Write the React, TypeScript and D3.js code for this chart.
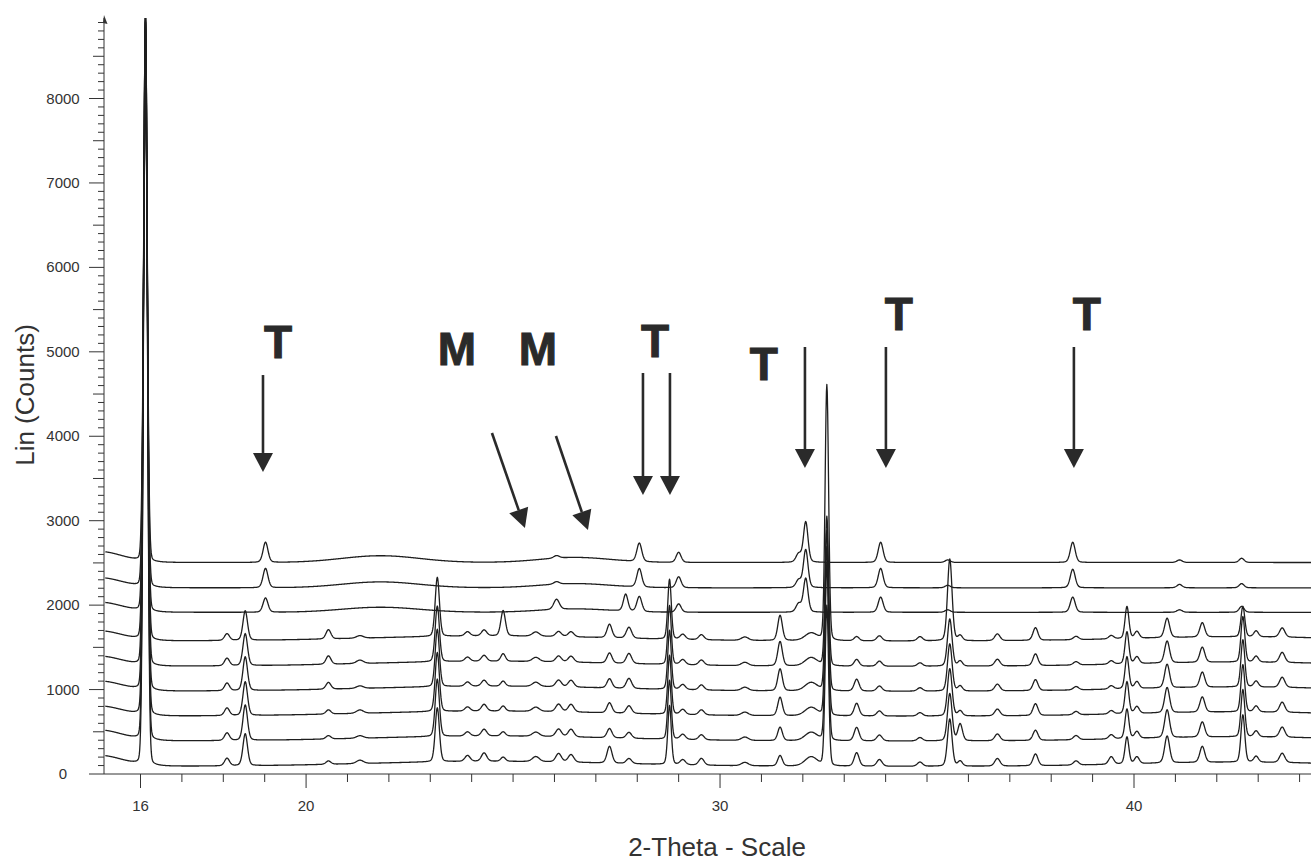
import React, { useEffect, useMemo } from 'react';
import * as d3 from 'd3';

const W = 1311;
const H = 861;

// ---- axis values ----
const xMajorTicks = [16, 20, 30, 40];
const xMajorLabels = ['16', '20', '30', '40'];
const xMinorTicks = [17, 18, 19, 21, 22, 23, 24, 25, 26, 27, 28, 29, 31, 32, 33, 34, 35, 36, 37, 38, 39, 41, 42, 43, 44];
const yMajorTicks = [0, 1000, 2000, 3000, 4000, 5000, 6000, 7000, 8000];
const yTickLabels = ['0', '1000', '2000', '3000', '4000', '5000', '6000', '7000', '8000'];
const yMaxTick = 8900;

const xTitle = '2-Theta - Scale';
const yTitle = 'Lin (Counts)';

// ---- data: 9 stacked diffraction patterns ----
// lower group (6 scans) baselines, counts
const baseB = [90, 390, 685, 980, 1275, 1575];
// upper group (3 scans) baselines, counts
const baseT = [1915, 2205, 2505];

// peaks of lower group: [2θ, FWHM, lorentz fraction, h0, h1, h2, h3, h4, h5]
const peaksB: number[][] = [
  [16.12, 0.11, 0.06, 8800, 8500, 8300, 8000, 7700, 7400],
  [18.09, 0.14, 0.25, 90, 90, 90, 90, 90, 80],
  [18.53, 0.13, 0.25, 380, 420, 400, 400, 380, 350],
  [20.54, 0.14, 0.25, 40, 40, 50, 80, 100, 110],
  [21.3, 0.2, 0.25, 40, 30, 40, 30, 40, 30],
  [23.17, 0.12, 0.2, 640, 680, 700, 680, 660, 700],
  [23.9, 0.15, 0.25, 70, 50, 50, 50, 50, 50],
  [24.3, 0.15, 0.25, 100, 80, 80, 70, 70, 70],
  [24.76, 0.13, 0.25, 50, 50, 60, 60, 90, 300],
  [25.55, 0.2, 0.25, 60, 50, 50, 50, 50, 50],
  [26.1, 0.16, 0.25, 100, 90, 90, 80, 70, 60],
  [26.4, 0.16, 0.25, 90, 90, 90, 80, 70, 60],
  [27.33, 0.14, 0.25, 200, 110, 120, 110, 120, 160],
  [27.8, 0.15, 0.25, 60, 70, 90, 120, 120, 130],
  [28.78, 0.1, 0.2, 700, 700, 700, 700, 700, 710],
  [29.1, 0.15, 0.25, 60, 60, 60, 60, 60, 60],
  [29.55, 0.15, 0.25, 80, 60, 60, 60, 60, 60],
  [30.6, 0.2, 0.25, 40, 40, 40, 40, 40, 40],
  [31.45, 0.13, 0.25, 125, 160, 220, 260, 290, 300],
  [32.2, 0.35, 0.25, 110, 100, 100, 100, 100, 90],
  [32.58, 0.1, 0.12, 1900, 2100, 2000, 1900, 1770, 3030],
  [33.3, 0.14, 0.25, 160, 160, 150, 140, 80, 50],
  [33.85, 0.15, 0.25, 80, 70, 60, 60, 60, 60],
  [34.83, 0.15, 0.25, 50, 40, 40, 40, 40, 50],
  [35.55, 0.13, 0.2, 560, 560, 560, 560, 560, 970],
  [35.8, 0.13, 0.25, 60, 200, 60, 60, 60, 60],
  [36.7, 0.15, 0.25, 90, 80, 80, 80, 80, 80],
  [37.62, 0.14, 0.25, 140, 120, 140, 130, 140, 150],
  [38.6, 0.15, 0.25, 50, 50, 40, 40, 40, 40],
  [39.45, 0.14, 0.25, 90, 50, 40, 40, 40, 40],
  [39.83, 0.11, 0.25, 320, 350, 380, 380, 380, 380],
  [40.07, 0.13, 0.25, 80, 80, 80, 80, 80, 80],
  [40.8, 0.14, 0.25, 320, 330, 300, 280, 260, 230],
  [41.65, 0.14, 0.25, 190, 180, 180, 180, 180, 170],
  [42.63, 0.11, 0.2, 560, 560, 560, 560, 540, 360],
  [42.95, 0.13, 0.25, 70, 70, 70, 70, 70, 70],
  [43.58, 0.15, 0.25, 110, 120, 120, 120, 120, 110],
];

// peaks of upper group: [2θ, FWHM, lorentz fraction, h6, h7, h8]
const peaksT: number[][] = [
  [16.12, 0.11, 0.06, 6200, 5900, 5600],
  [19.02, 0.14, 0.25, 170, 230, 240],
  [26.05, 0.16, 0.25, 120, 30, 30],
  [27.72, 0.13, 0.25, 200, 0, 0],
  [28.05, 0.14, 0.25, 180, 220, 220],
  [29.0, 0.14, 0.25, 100, 130, 120],
  [31.9, 0.15, 0.25, 100, 90, 100],
  [32.07, 0.13, 0.25, 400, 450, 480],
  [33.88, 0.14, 0.25, 180, 230, 240],
  [35.5, 0.15, 0.25, 30, 30, 30],
  [38.52, 0.14, 0.25, 180, 220, 240],
  [41.1, 0.15, 0.25, 30, 40, 30],
  [42.6, 0.14, 0.25, 70, 50, 50],
];

// broad background humps: [centre, width, a...]
const bgB: number[][] = [
  [15.0, 1.3, 130, 130, 120, 120, 120, 120],
  [24.5, 7, 60, 60, 60, 60, 60, 60],
  [42.5, 6, 50, 50, 50, 50, 50, 50],
];
const bgT: number[][] = [
  [15.0, 1.3, 120, 120, 130],
  [21.8, 2.2, 60, 70, 80],
  [26.5, 2.0, 40, 50, 60],
];

// ---- annotations (2θ, counts) ----
const labelText = ['T', 'M', 'M', 'T', 'T', 'T', 'T'];
const labelX = [19.32, 23.645, 25.6, 28.43, 31.06, 34.32, 38.86];
const labelY = [4927, 4844, 4844, 4938, 4666, 5258, 5258];
const arrowX0 = [18.959, 24.49, 26.036, 28.138, 28.79, 32.051, 34.007, 38.548];
const arrowY0 = [4725, 4038, 4003, 4749, 4749, 5057, 5057, 5057];
const arrowX1 = [18.959, 25.287, 26.809, 28.138, 28.79, 32.051, 34.007, 38.548];
const arrowY1 = [3577, 2913, 2890, 3304, 3304, 3624, 3624, 3624];

const X_START = 15.15;
const X_END = 44.3;
const STEP = 0.01;

function profile(x: number, c: number, w: number, eta: number) {
  const d = (x - c) / w;
  const g = Math.exp(-4 * Math.LN2 * d * d);
  const l = 1 / (1 + 4 * d * d);
  return eta * l + (1 - eta) * g;
}
function gauss(x: number, c: number, w: number) {
  const d = (x - c) / w;
  return Math.exp(-4 * Math.LN2 * d * d);
}

export default function App() {
  useEffect(() => {
    document.body.style.margin = '0';
    document.body.style.overflow = 'hidden';
  }, []);

  const x = d3.scaleLinear().domain([16, 40]).range([140.5, 1134]);
  const y = d3.scaleLinear().domain([0, 8000]).range([774, 98.5]);
  const axisX = 104;
  const axisY = y(0);
  const topY = 18;

  const traces = useMemo(() => {
    const xs = d3.range(X_START, X_END, STEP);
    const out: [number, number][][] = [];
    const build = (base: number, peaks: number[][], bg: number[][], k: number) =>
      xs.map((t) => {
        let v = base;
        for (const b of bg) v += b[2 + k] * gauss(t, b[0], b[1]);
        for (const p of peaks) if (Math.abs(t - p[0]) < 3) v += p[3 + k] * profile(t, p[0], p[1], p[2]);
        return [t, v] as [number, number];
      });
    baseB.forEach((b, k) => out.push(build(b, peaksB, bgB, k)));
    baseT.forEach((b, k) => out.push(build(b, peaksT, bgT, k)));
    return out;
  }, []);

  const line = d3
    .line<[number, number]>()
    .x((d) => x(d[0]))
    .y((d) => y(d[1]));

  const yMinor = d3.range(100, yMaxTick + 1, 100).filter((v) => v % 500 !== 0);
  const yMid = d3.range(500, yMaxTick, 1000);

  const font = '"Liberation Sans", Arial, Helvetica, sans-serif';

  const arrows = arrowX0.map((_, i) => {
    const px0 = x(arrowX0[i]);
    const py0 = y(arrowY0[i]);
    const px1 = x(arrowX1[i]);
    const py1 = y(arrowY1[i]);
    const dx = px1 - px0;
    const dy = py1 - py0;
    const len = Math.hypot(dx, dy);
    const ux = dx / len;
    const uy = dy / len;
    const hl = 19;
    const hw = 10;
    const bx = px1 - ux * hl;
    const by = py1 - uy * hl;
    const head = `M${px1},${py1}L${bx - uy * hw},${by + ux * hw}L${bx + uy * hw},${by - ux * hw}Z`;
    return { px0, py0, bx, by, head };
  });

  return (
    <svg width={W} height={H} style={{ position: 'absolute', left: 0, top: 0, background: '#fff' }}>
      <defs>
        <clipPath id="plot">
          <rect x={axisX} y={topY} width={W - axisX} height={axisY - topY + 1} />
        </clipPath>
      </defs>

      {/* traces */}
      <g clipPath="url(#plot)">
        {traces.map((t, i) => (
          <path key={i} d={line(t) || ''} fill="none" stroke="#1e1e1e" strokeWidth={1.3} strokeLinejoin="round" />
        ))}
      </g>

      {/* y axis */}
      <g stroke="#333" strokeWidth={1}>
        <line x1={axisX} x2={axisX} y1={axisY} y2={topY} />
        {yMajorTicks.map((v) => (
          <line key={'ym' + v} x1={axisX - 15} x2={axisX} y1={y(v)} y2={y(v)} />
        ))}
        {yMid.map((v) => (
          <line key={'yd' + v} x1={axisX - 11} x2={axisX} y1={y(v)} y2={y(v)} />
        ))}
        {yMinor.map((v) => (
          <line key={'yn' + v} x1={axisX - 6} x2={axisX} y1={y(v)} y2={y(v)} />
        ))}
      </g>
      <path d={`M${axisX},${topY - 3}L${axisX + 3.5},${topY + 6}L${axisX - 1},${topY + 5}Z`} fill="#333" />
      {yMajorTicks.map((v, i) => (
        <text key={'yl' + v} x={63} y={y(v) + 5} textAnchor="middle" fontFamily={font} fontSize={15} fill="#333">
          {yTickLabels[i]}
        </text>
      ))}

      {/* x axis */}
      <g stroke="#333" strokeWidth={1}>
        <line x1={axisX} x2={W} y1={axisY} y2={axisY} />
        {xMajorTicks.map((v) => (
          <line key={'xm' + v} x1={x(v)} x2={x(v)} y1={axisY} y2={axisY + 14} />
        ))}
        {xMinorTicks.map((v) => (
          <line key={'xn' + v} x1={x(v)} x2={x(v)} y1={axisY} y2={axisY + 8} />
        ))}
      </g>
      {xMajorTicks.map((v, i) => (
        <text key={'xl' + v} x={x(v)} y={811} textAnchor="middle" fontFamily={font} fontSize={15} fill="#333">
          {xMajorLabels[i]}
        </text>
      ))}

      {/* titles */}
      <text x={717} y={856} textAnchor="middle" fontFamily={font} fontSize={26} fill="#333">
        {xTitle}
      </text>
      <text
        transform={`translate(34,395) rotate(-90)`}
        textAnchor="middle"
        fontFamily={font}
        fontSize={26}
        fill="#333"
      >
        {yTitle}
      </text>

      {/* annotations */}
      {arrows.map((a, i) => (
        <g key={'ar' + i}>
          <line x1={a.px0} y1={a.py0} x2={a.bx} y2={a.by} stroke="#2a2a2a" strokeWidth={2.6} />
          <path d={a.head} fill="#2a2a2a" />
        </g>
      ))}
      {labelText.map((t, i) => (
        <text
          key={'lb' + i}
          x={x(labelX[i])}
          y={y(labelY[i])}
          textAnchor="middle"
          fontFamily={font}
          fontWeight="bold"
          fontSize={46}
          fill="#2a2a2a"
          stroke="#2a2a2a"
          strokeWidth={1}
        >
          {t}
        </text>
      ))}
    </svg>
  );
}
